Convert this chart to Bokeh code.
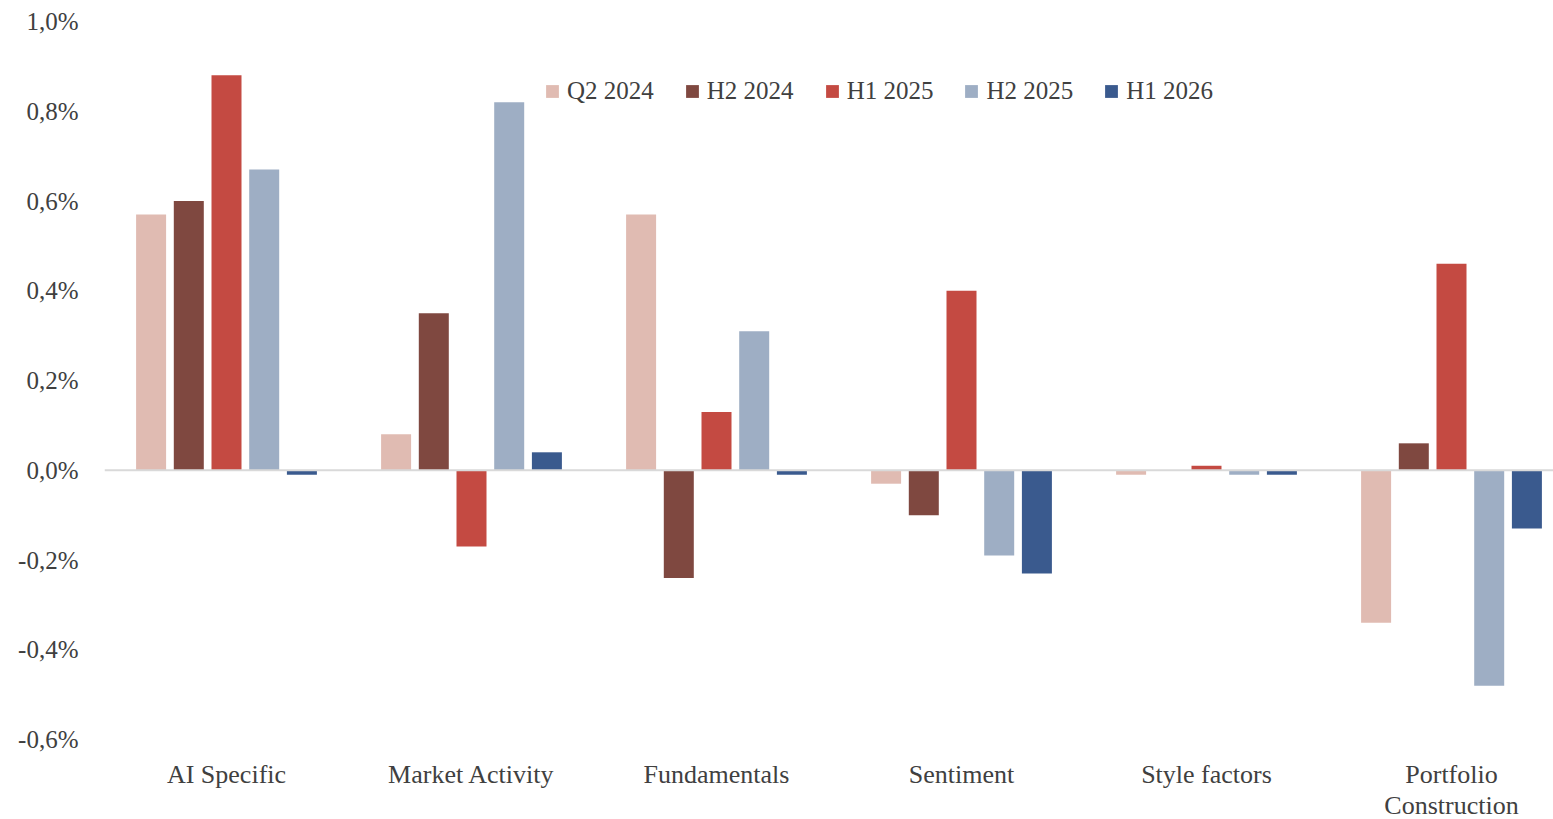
from bokeh.plotting import figure
from bokeh.models import ColumnDataSource, Span, FixedTicker, Legend, LegendItem, Range1d, Label
from bokeh.embed import file_html
from bokeh.resources import INLINE

# Attribution by factor group, one series per period
categories = ["AI Specific", "Market Activity", "Fundamentals", "Sentiment", "Style factors", "Portfolio Construction"]
periods = ["Q2 2024", "H2 2024", "H1 2025", "H2 2025", "H1 2026"]
q2_2024 = [0.57, 0.08, 0.57, -0.03, -0.01, -0.34]
h2_2024 = [0.60, 0.35, -0.24, -0.10, 0.00, 0.06]
h1_2025 = [0.88, -0.17, 0.13, 0.40, 0.01, 0.46]
h2_2025 = [0.67, 0.82, 0.31, -0.19, -0.01, -0.48]
h1_2026 = [-0.01, 0.04, -0.01, -0.23, -0.01, -0.13]
y_ticks = [-0.6, -0.4, -0.2, 0.0, 0.2, 0.4, 0.6, 0.8, 1.0]

series = [q2_2024, h2_2024, h1_2025, h2_2025, h1_2026]
colors = ["#E0BBB2", "#7F4840", "#C44A42", "#9EAEC4", "#3A5A8E"]

FONT = "Liberation Serif"
TXT = "#404040"

W, H = 1553, 819
LEFT, TOP = 104, 21
AXIS_BOTTOM_PX = 739          # pixel row of the lowest tick (-0,6%)
cat_px = 245.0
first_center = 226.0
Y_LOW, Y_HIGH = -0.6, 1.0
px_per_unit = (AXIS_BOTTOM_PX - TOP) / (Y_HIGH - Y_LOW)
# the frame runs down to the bottom edge so the category names sit inside it
y_start = Y_HIGH - (H - TOP) / px_per_unit

x0 = (LEFT - first_center) / cat_px
x1 = (W - first_center) / cat_px

p = figure(width=W, height=H, output_backend="svg", toolbar_location=None,
           x_range=Range1d(x0, x1), y_range=Range1d(y_start, Y_HIGH),
           min_border_left=LEFT, min_border_right=0, min_border_top=TOP,
           min_border_bottom=0)
p.outline_line_color = None
p.grid.visible = False
p.background_fill_color = "white"
p.border_fill_color = "white"

stride = 37.7 / cat_px
bar_w = 30.0 / cat_px
xs = list(range(len(categories)))

items = []
for k, (name, vals, col) in enumerate(zip(periods, series, colors)):
    src = ColumnDataSource(dict(x=[i + (k - 2) * stride for i in xs], top=vals))
    r = p.vbar(x="x", top="top", bottom=0, width=bar_w, source=src,
               fill_color=col, line_color=None)
    items.append(LegendItem(label=name, renderers=[r]))

p.add_layout(Span(location=0, dimension="width", line_color="#D9D9D9", line_width=2), "center")

# y axis
ya = p.yaxis[0]
ya.ticker = FixedTicker(ticks=y_ticks)
ya.major_label_overrides = {t: ("%.1f%%" % t).replace(".", ",") for t in y_ticks}
ya.axis_line_color = None
ya.major_tick_line_color = None
ya.minor_tick_line_color = None
ya.major_label_text_font = FONT
ya.major_label_text_font_size = "25px"
ya.major_label_text_color = TXT
ya.major_label_standoff = 20

# category names under the bars
p.xaxis.visible = False
for i, c in enumerate(categories):
    lines = ["Portfolio", "Construction"] if c == "Portfolio Construction" else [c]
    for j, line in enumerate(lines):
        y = Y_LOW - (35 + 31 * j) / px_per_unit
        p.add_layout(Label(x=i, y=y, text=line, text_align="center", text_baseline="middle",
                           text_font=FONT, text_font_size="26px", text_color=TXT))

legend = Legend(items=items, orientation="horizontal", location=(440, 714),
                label_text_font=FONT, label_text_font_size="25px", label_text_color=TXT,
                glyph_width=16, glyph_height=16, label_standoff=7, spacing=30,
                padding=0, margin=0, border_line_color=None, background_fill_alpha=0)
p.add_layout(legend, "center")

open("out.html", "w").write(file_html(p, INLINE))
